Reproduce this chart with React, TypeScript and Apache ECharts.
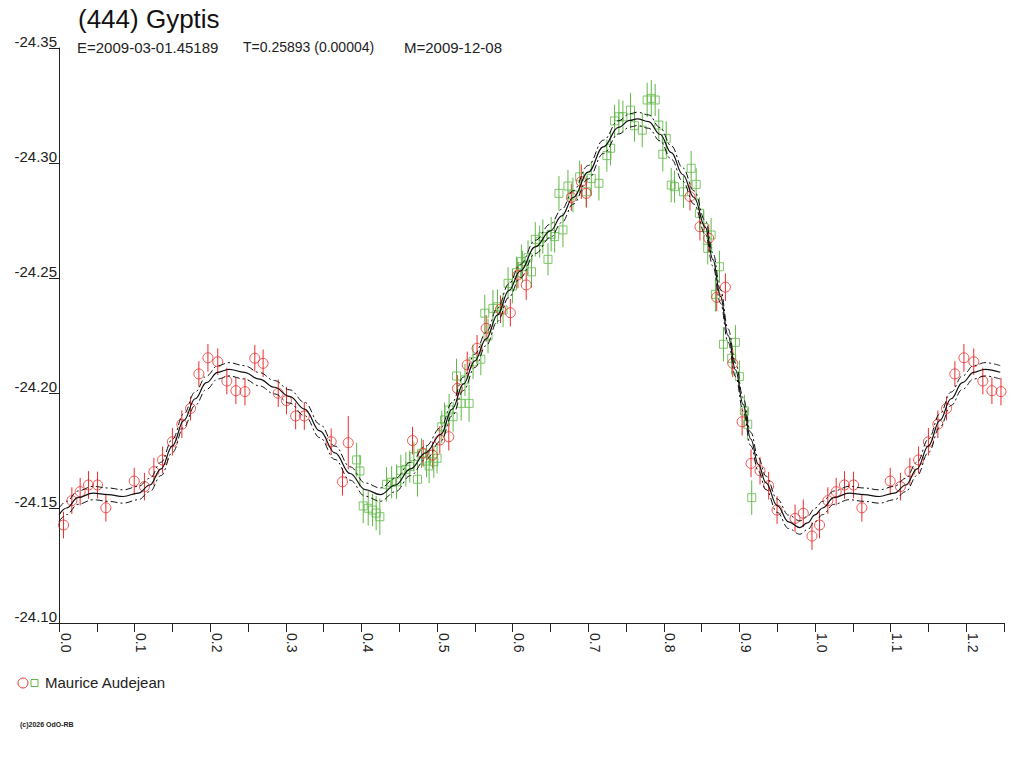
import React, { useEffect, useRef } from "react";
import * as echarts from "echarts";

// ---- data ----
const X_MIN = 0;
const X_MAX = 1.25;
const Y_MIN = -24.35;
const Y_MAX = -24.1;
const ENVELOPE = 0.0029; // half-width of dash-dot envelope (mag)

// fitted curve (phase, mag) over one period
const CURVE: number[][] = [
  [0.0, -24.147], [0.01, -24.15], [0.025, -24.1545], [0.045, -24.1565],
  [0.065, -24.1558], [0.085, -24.155], [0.105, -24.1565], [0.12, -24.16],
  [0.135, -24.167], [0.15, -24.177], [0.165, -24.188], [0.18, -24.1975],
  [0.195, -24.2045], [0.21, -24.209], [0.225, -24.2103], [0.245, -24.209],
  [0.265, -24.206], [0.285, -24.2025], [0.305, -24.1985], [0.325, -24.193],
  [0.345, -24.1835], [0.365, -24.174], [0.385, -24.165], [0.405, -24.158],
  [0.425, -24.1558], [0.445, -24.16], [0.465, -24.167], [0.485, -24.174],
  [0.505, -24.182], [0.52, -24.193], [0.535, -24.204], [0.55, -24.214],
  [0.565, -24.2235], [0.58, -24.234], [0.595, -24.2445], [0.61, -24.253],
  [0.63, -24.2635], [0.65, -24.2705], [0.665, -24.277], [0.68, -24.285],
  [0.7, -24.296], [0.72, -24.307], [0.74, -24.3155], [0.755, -24.3185],
  [0.765, -24.3192], [0.78, -24.318], [0.795, -24.3125], [0.81, -24.3045],
  [0.825, -24.295], [0.84, -24.285], [0.855, -24.272], [0.865, -24.258],
  [0.875, -24.242], [0.885, -24.225], [0.895, -24.21], [0.905, -24.195],
  [0.915, -24.18], [0.925, -24.169], [0.935, -24.161], [0.95, -24.151],
  [0.965, -24.144], [0.98, -24.1415], [0.99, -24.1435], [1.0, -24.147],
];

// red circles: phase, mag, error
const RED_POINTS: number[][] = [
  [0.006, -24.1426, 0.0058], [0.017, -24.1532, 0.0058], [0.028, -24.1571, 0.006],
  [0.039, -24.16, 0.006], [0.051, -24.16, 0.0058], [0.062, -24.1501, 0.006],
  [0.0995, -24.1617, 0.0058], [0.113, -24.1593, 0.006], [0.1255, -24.1658, 0.006],
  [0.137, -24.1709, 0.0058], [0.15, -24.1788, 0.006], [0.1625, -24.1864, 0.006],
  [0.174, -24.1933, 0.0052], [0.185, -24.2083, 0.0055], [0.197, -24.2153, 0.006],
  [0.21, -24.2136, 0.0058], [0.222, -24.2052, 0.0058], [0.234, -24.201, 0.0058],
  [0.246, -24.2006, 0.006], [0.259, -24.2151, 0.0058], [0.27, -24.2129, 0.006],
  [0.29, -24.1999, 0.006], [0.301, -24.1967, 0.006], [0.313, -24.19, 0.0058],
  [0.3245, -24.19, 0.006], [0.36, -24.1788, 0.0058], [0.375, -24.1614, 0.006],
  [0.3826, -24.1784, 0.0116], [0.4676, -24.1793, 0.006], [0.4817, -24.1738, 0.0058],
  [0.494, -24.173, 0.0058], [0.5037, -24.1796, 0.006], [0.5156, -24.181, 0.006],
  [0.527, -24.202, 0.0058], [0.54, -24.2122, 0.0058], [0.553, -24.2194, 0.0058],
  [0.565, -24.2281, 0.0058], [0.584, -24.2364, 0.006], [0.597, -24.2349, 0.006],
  [0.607, -24.2513, 0.0058], [0.618, -24.247, 0.0065], [0.6777, -24.285, 0.0058],
  [0.6909, -24.2919, 0.0075], [0.6975, -24.2868, 0.006], [0.8346, -24.2854, 0.006],
  [0.8478, -24.2723, 0.006], [0.8594, -24.2673, 0.006], [0.87, -24.2416, 0.006],
  [0.8815, -24.246, 0.006], [0.8912, -24.2129, 0.006], [0.9036, -24.1875, 0.006],
  [0.9154, -24.1694, 0.006], [0.9273, -24.1662, 0.006], [0.9387, -24.1597, 0.006],
  [0.9498, -24.1491, 0.006], [0.9736, -24.1455, 0.006], [0.9845, -24.1477, 0.006],
  [0.996, -24.1378, 0.006],
];

// green squares: phase, mag, error
const GREEN_POINTS: number[][] = [
  [0.3937, -24.1709, 0.0075], [0.398, -24.1661, 0.007], [0.4024, -24.1509, 0.0075],
  [0.409, -24.1499, 0.0075], [0.4148, -24.1491, 0.007], [0.4195, -24.1478, 0.0075],
  [0.4244, -24.1462, 0.008], [0.4333, -24.1603, 0.0075], [0.44, -24.1612, 0.007],
  [0.4465, -24.1614, 0.0075], [0.4522, -24.1662, 0.007], [0.4588, -24.1668, 0.0075],
  [0.464, -24.168, 0.007], [0.4694, -24.1723, 0.0065], [0.4742, -24.1625, 0.0075],
  [0.4795, -24.1738, 0.0065], [0.4861, -24.1704, 0.007], [0.4896, -24.1683, 0.0075],
  [0.4958, -24.1701, 0.007], [0.5001, -24.1716, 0.0065], [0.5063, -24.1853, 0.007],
  [0.51, -24.1883, 0.0075], [0.516, -24.1926, 0.007], [0.5213, -24.1897, 0.0065],
  [0.5258, -24.2074, 0.0075], [0.532, -24.1955, 0.0075], [0.537, -24.2057, 0.007],
  [0.5424, -24.1955, 0.008], [0.5477, -24.2136, 0.0075], [0.558, -24.2147, 0.007],
  [0.5632, -24.2347, 0.008], [0.5675, -24.2248, 0.0075], [0.574, -24.2368, 0.008],
  [0.58, -24.2375, 0.0075], [0.5874, -24.2361, 0.0075], [0.594, -24.2477, 0.007],
  [0.5998, -24.2465, 0.0075], [0.605, -24.2523, 0.007], [0.6116, -24.2571, 0.0075],
  [0.613, -24.2549, 0.007], [0.6204, -24.2588, 0.0075], [0.625, -24.2527, 0.007],
  [0.63, -24.2668, 0.0075], [0.6358, -24.2658, 0.007], [0.64, -24.268, 0.0075],
  [0.6468, -24.2581, 0.007], [0.651, -24.269, 0.0075], [0.6556, -24.268, 0.007],
  [0.6613, -24.2868, 0.0075], [0.6666, -24.2709, 0.0075], [0.6732, -24.29, 0.007],
  [0.6798, -24.2861, 0.0075], [0.6887, -24.294, 0.007], [0.6975, -24.2875, 0.007],
  [0.7041, -24.2933, 0.0075], [0.7142, -24.2912, 0.0075], [0.7247, -24.3032, 0.007],
  [0.7296, -24.3064, 0.0075], [0.7349, -24.3183, 0.007], [0.7406, -24.3201, 0.0075],
  [0.7459, -24.3201, 0.007], [0.756, -24.323, 0.0075], [0.7613, -24.3162, 0.007],
  [0.7715, -24.3143, 0.0075], [0.778, -24.3274, 0.0075], [0.7834, -24.3281, 0.008],
  [0.7886, -24.3274, 0.007], [0.7934, -24.3165, 0.007], [0.7987, -24.3038, 0.0075],
  [0.8032, -24.3107, 0.0075], [0.8098, -24.2904, 0.0075], [0.8141, -24.2897, 0.007],
  [0.826, -24.2875, 0.007], [0.8362, -24.2977, 0.0075], [0.8428, -24.2907, 0.007],
  [0.8472, -24.2781, 0.007], [0.8529, -24.2719, 0.0075], [0.8581, -24.2629, 0.007],
  [0.8626, -24.2687, 0.0075], [0.8683, -24.2429, 0.0075], [0.8736, -24.2549, 0.007],
  [0.8789, -24.2212, 0.0075], [0.8898, -24.2151, 0.007], [0.8947, -24.222, 0.0075],
  [0.9, -24.2071, 0.007], [0.9066, -24.1922, 0.007], [0.911, -24.1864, 0.007],
  [0.9163, -24.1545, 0.0075],
];

const TITLE = "(444) Gyptis";
const SUB_E = "E=2009-03-01.45189";
const SUB_T = "T=0.25893 (0.00004)";
const SUB_M = "M=2009-12-08";
const OBSERVER = "Maurice Audejean";
const COPYRIGHT = "(c)2026 OdO-RB";

const RED = "#ee2b2b";
const GREEN = "#5fb946";
const FONT = "'Liberation Sans', Arial, sans-serif";

// phase plot: repeat first part of the period beyond 1.0
function wrap(rows: number[][]): number[][] {
  const out = rows.map((r) => r.slice());
  rows.forEach((r) => {
    if (r[0] + 1 <= X_MAX + 1e-9) out.push([r[0] + 1, ...r.slice(1)]);
  });
  return out.sort((a, b) => a[0] - b[0]);
}

function curveData(offset: number): number[][] {
  const base = CURVE.map((p) => [p[0], p[1] + offset]);
  const ext = CURVE.filter((p) => p[0] > 0 && p[0] + 1 <= X_MAX + 1e-9).map((p) => [p[0] + 1, p[1] + offset]);
  return base.concat(ext);
}

function errorBarSeries(rows: number[][], color: string) {
  return {
    type: "custom",
    data: rows,
    encode: { x: 0, y: 1 },
    clip: true,
    z: 2,
    renderItem: (_params: any, api: any) => {
      const x = api.value(0);
      const y = api.value(1);
      const e = api.value(2);
      const p1 = api.coord([x, y - e]);
      const p2 = api.coord([x, y + e]);
      return {
        type: "line",
        shape: { x1: p1[0], y1: p1[1], x2: p2[0], y2: p2[1] },
        style: { stroke: color, lineWidth: 1 },
      };
    },
  };
}

export default function App() {
  const ref = useRef<HTMLDivElement>(null);
  useEffect(() => {
    if (!ref.current) return;
    const chart = echarts.init(ref.current, undefined, { renderer: "svg" });
    const red = wrap(RED_POINTS);
    const green = wrap(GREEN_POINTS);
    const lineCommon = {
      type: "line",
      showSymbol: false,
      symbol: "none",
      smooth: 0.4,
      smoothMonotone: "x",
      z: 5,
      silent: true,
    };
    chart.setOption({
      animation: false,
      backgroundColor: "#ffffff",
      grid: { left: 59, right: 20, top: 48, bottom: 145, outerBoundsMode: "none" },
      xAxis: {
        type: "value",
        min: X_MIN,
        max: X_MAX,
        interval: 0.05,
        axisLine: { show: true, onZero: false, lineStyle: { color: "#222", width: 1 } },
        axisTick: { show: true, length: 9, inside: false, lineStyle: { color: "#222" } },
        splitLine: { show: false },
        axisLabel: {
          show: true,
          rotate: -90,
          margin: 10,
          align: "left",
          verticalAlign: "bottom",
          lineHeight: 13,
          color: "#222",
          fontFamily: FONT,
          fontSize: 14,
          showMinLabel: true,
          showMaxLabel: true,
          hideOverlap: false,
          formatter: (v: number) => {
            const k = Math.round(v * 100);
            return k % 10 === 0 ? (k / 100).toFixed(1) : "";
          },
        },
      },
      yAxis: {
        type: "value",
        inverse: true,
        min: Y_MIN,
        max: Y_MAX,
        interval: 0.05,
        axisLine: { show: true, onZero: false, lineStyle: { color: "#222", width: 1 } },
        axisTick: { show: true, length: 10, inside: false, lineStyle: { color: "#222" } },
        splitLine: { show: false },
        axisLabel: {
          show: true,
          margin: 2,
          align: "right",
          verticalAlign: "bottom",
          lineHeight: 13,
          color: "#222",
          fontFamily: FONT,
          fontSize: 15,
          showMinLabel: true,
          showMaxLabel: true,
          formatter: (v: number) => v.toFixed(2),
        },
      },
      series: [
        errorBarSeries(green, GREEN),
        errorBarSeries(red, RED),
        {
          type: "scatter",
          data: green.map((r) => [r[0], r[1]]),
          symbol: "rect",
          symbolSize: 8,
          z: 3,
          itemStyle: { color: "rgba(0,0,0,0)", borderColor: GREEN, borderWidth: 1 },
        },
        {
          type: "scatter",
          data: red.map((r) => [r[0], r[1]]),
          symbol: "circle",
          symbolSize: 10,
          z: 3,
          itemStyle: { color: "rgba(0,0,0,0)", borderColor: RED, borderWidth: 1 },
        },
        { ...lineCommon, data: curveData(0), lineStyle: { color: "#111", width: 1.2 } },
        { ...lineCommon, data: curveData(-ENVELOPE), lineStyle: { color: "#111", width: 1, type: [7, 3, 2, 3] } },
        { ...lineCommon, data: curveData(ENVELOPE), lineStyle: { color: "#111", width: 1, type: [7, 3, 2, 3] } },
      ],
      graphic: [
        { type: "text", left: 78, top: 6, style: { text: TITLE, font: `26px ${FONT}`, fill: "#111" } },
        { type: "text", left: 77, top: 40, style: { text: SUB_E, font: `15px ${FONT}`, fill: "#222" } },
        { type: "text", left: 243, top: 40, style: { text: SUB_T, font: `14px ${FONT}`, fill: "#222" } },
        { type: "text", left: 404, top: 40, style: { text: SUB_M, font: `15px ${FONT}`, fill: "#222" } },
        { type: "circle", shape: { cx: 23, cy: 683, r: 5 }, style: { fill: "none", stroke: RED, lineWidth: 1 } },
        { type: "rect", shape: { x: 31, y: 679.5, width: 7, height: 7 }, style: { fill: "none", stroke: GREEN, lineWidth: 1 } },
        { type: "text", left: 45, top: 675, style: { text: OBSERVER, font: `15px ${FONT}`, fill: "#222" } },
        { type: "text", left: 20, top: 721, style: { text: COPYRIGHT, font: `bold 7px ${FONT}`, fill: "#222" } },
      ],
    });
    return () => chart.dispose();
  }, []);
  return (
    <div
      ref={ref}
      style={{ position: "fixed", left: 0, top: 0, width: 1024, height: 768, background: "#fff" }}
    />
  );
}
